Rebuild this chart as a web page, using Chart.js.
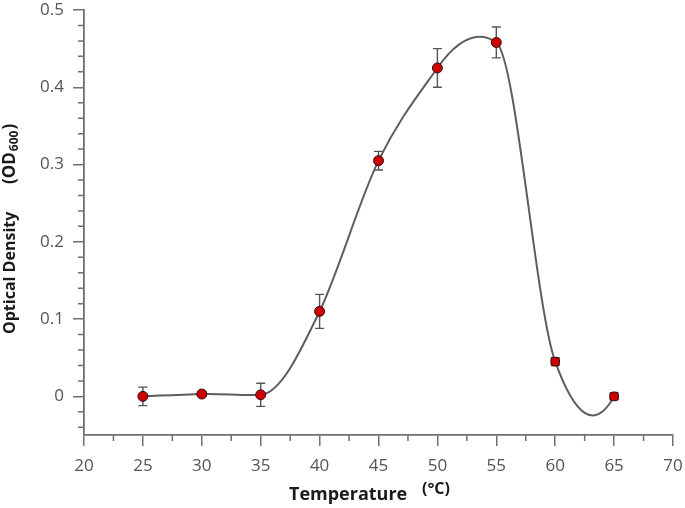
<!DOCTYPE html>
<html>
<head>
<meta charset="utf-8">
<title>Optical Density vs Temperature</title>
<script src="https://cdn.jsdelivr.net/npm/chart.js@4/dist/chart.umd.min.js"></script>
<style>
    html, body { margin: 0; padding: 0; background: #fff; }
    #wrap { width: 685px; height: 508px; }
</style>
</head>
<body>
<div id="wrap"><canvas id="odChart" width="685" height="508"></canvas></div>
<script>
// data
const temperatures = [25, 30, 35, 40, 45, 50, 55, 60, 65];
const odValues     = [0.000, 0.003, 0.002, 0.110, 0.305, 0.425, 0.458, 0.045, 0.000];
const odErrors     = [0.012, 0.003, 0.015, 0.022, 0.012, 0.025, 0.020, 0.005, 0.004];

const xTicks = [20, 25, 30, 35, 40, 45, 50, 55, 60, 65, 70];
const yTicks = [0, 0.1, 0.2, 0.3, 0.4, 0.5];
const xMinorTicks = [22.5, 27.5, 32.5, 37.5, 42.5, 47.5, 52.5, 57.5, 62.5, 67.5];
const yMinorTicks = [-0.04, -0.02, 0.02, 0.04, 0.06, 0.08, 0.12, 0.14, 0.16, 0.18,
                     0.22, 0.24, 0.26, 0.28, 0.32, 0.34, 0.36, 0.38, 0.42, 0.44, 0.46, 0.48];

const axisColor = '#707070';
const tickFont = { family: 'Open Sans', size: 17 };

// Swap Chart.js' bezier control points for Akima spline ones
// (the figure's connecting line is an Akima-type spline through the points)
const akimaSpline = {
    id: 'akimaSpline',
    beforeDatasetsDraw(chart) {
        const meta = chart.getDatasetMeta(0);
        const line = meta.dataset;
        const pts = meta.data;
        line.updateControlPoints(chart.chartArea, 'x');
        const n = pts.length;
        // segment slopes, with two extrapolated on each side
        const s = [];
        for (let i = 0; i < n - 1; i++) s.push((pts[i + 1].y - pts[i].y) / (pts[i + 1].x - pts[i].x));
        const sl = [2 * s[0] - s[1]];
        sl.unshift(2 * sl[0] - s[0]);
        const e1 = 2 * s[n - 2] - s[n - 3];
        const seg = sl.concat(s, [e1, 2 * e1 - s[n - 2]]);
        const d = [];
        for (let i = 0; i < n; i++) {
            const k = i + 2; // seg[k] is the slope right of node i
            const w1 = Math.abs(seg[k + 1] - seg[k]);
            const w2 = Math.abs(seg[k - 1] - seg[k - 2]);
            d.push(w1 + w2 > 1e-9 ? (w1 * seg[k - 1] + w2 * seg[k]) / (w1 + w2) : (seg[k - 1] + seg[k]) / 2);
        }
        for (let i = 0; i < n; i++) {
            const p = pts[i];
            const hp = i > 0 ? p.x - pts[i - 1].x : 0;
            const hn = i < n - 1 ? pts[i + 1].x - p.x : 0;
            p.cp1x = p.x - hp / 3; p.cp1y = p.y - d[i] * hp / 3;
            p.cp2x = p.x + hn / 3; p.cp2y = p.y + d[i] * hn / 3;
        }
        line._path = undefined;
    }
};

// Error bars, drawn under the points
const errorBars = {
    id: 'errorBars',
    beforeDatasetsDraw(chart) {
        const ctx = chart.ctx;
        const x = chart.scales.x, y = chart.scales.y;
        ctx.save();
        ctx.strokeStyle = '#555';
        ctx.lineWidth = 1.4;
        temperatures.forEach(function(t, i) {
            const px = x.getPixelForValue(t);
            const top = y.getPixelForValue(odValues[i] + odErrors[i]);
            const bot = y.getPixelForValue(odValues[i] - odErrors[i]);
            ctx.beginPath();
            ctx.moveTo(px, top); ctx.lineTo(px, bot);
            ctx.moveTo(px - 4.5, top); ctx.lineTo(px + 4.5, top);
            ctx.moveTo(px - 4.5, bot); ctx.lineTo(px + 4.5, bot);
            ctx.stroke();
        });
        ctx.restore();
    }
};

// Minor ticks and axis titles (subscript / degree unit)
const axisDecor = {
    id: 'axisDecor',
    afterDraw(chart) {
        const ctx = chart.ctx;
        const x = chart.scales.x, y = chart.scales.y;
        const area = chart.chartArea;
        ctx.save();
        ctx.strokeStyle = axisColor;
        ctx.lineWidth = 1.5;
        ctx.beginPath();
        xMinorTicks.forEach(function(v) {
            const px = x.getPixelForValue(v);
            ctx.moveTo(px, area.bottom); ctx.lineTo(px, area.bottom + 6);
        });
        yMinorTicks.forEach(function(v) {
            const py = y.getPixelForValue(v);
            ctx.moveTo(area.left, py); ctx.lineTo(area.left - 6, py);
        });
        ctx.stroke();

        // x title
        ctx.fillStyle = '#1a1a1a';
        ctx.textBaseline = 'alphabetic';
        ctx.textAlign = 'left';
        ctx.font = 'bold 18px "Open Sans"';
        ctx.fillText('Temperature', 289, 500);
        ctx.font = 'bold 16px "Open Sans"';
        ctx.fillText('(°C)', 422, 494);

        // y title, rotated
        ctx.translate(15, 0);
        ctx.rotate(-Math.PI / 2);
        ctx.font = 'bold 16px "Open Sans"';
        ctx.fillText('Optical Density', -334, 0);
        ctx.font = 'bold 17px "Open Sans"';
        ctx.fillText('(OD', -184, 0);
        const w = ctx.measureText('(OD').width;
        ctx.font = 'bold 12px "Open Sans"';
        ctx.fillText('600', -183 + w, 3);
        const w2 = ctx.measureText('600').width;
        ctx.font = 'bold 17px "Open Sans"';
        ctx.fillText(')', -182 + w + w2, 0);
        ctx.restore();
    }
};

function createChart() {
    const ctx = document.getElementById('odChart').getContext('2d');
    const points = temperatures.map(function(t, i) { return { x: t, y: odValues[i] }; });

    new Chart(ctx, {
        type: 'scatter',
        data: {
            datasets: [{
                data: points,
                showLine: true,
                borderColor: '#5e5e5e',
                borderWidth: 2,
                tension: 0.4,
                pointRadius: 5,
                pointBackgroundColor: '#cc0000',
                pointBorderColor: '#3a0a0a',
                pointBorderWidth: 1,
                pointStyle: function(c) { return c.dataIndex >= 7 ? 'rectRounded' : 'circle'; }
            }]
        },
        options: {
            responsive: false,
            animation: false,
            layout: { padding: { top: 10, right: 12, left: 0, bottom: 0 } },
            plugins: { legend: { display: false }, tooltip: { enabled: false } },
            scales: {
                x: {
                    type: 'linear',
                    min: 20, max: 70,
                    afterBuildTicks: function(s) { s.ticks = xTicks.map(function(v) { return { value: v }; }); },
                    afterFit: function(s) { s.height = 73; s.paddingLeft = 0; s.paddingRight = 0; },
                    border: { display: true, color: axisColor, width: 1.8 },
                    grid: { drawOnChartArea: false, tickLength: 11, color: axisColor, lineWidth: 1.5 },
                    ticks: { color: '#555', font: tickFont, padding: 10, maxRotation: 0 }
                },
                y: {
                    min: -0.05, max: 0.5,
                    afterBuildTicks: function(s) { s.ticks = yTicks.map(function(v) { return { value: v }; }); },
                    afterFit: function(s) { s.width = 84; s.paddingTop = 0; s.paddingBottom = 0; },
                    border: { display: true, color: axisColor, width: 1.8 },
                    grid: { drawOnChartArea: false, tickLength: 11, color: axisColor, lineWidth: 1.5 },
                    ticks: {
                        color: '#555', font: tickFont, padding: 9,
                        callback: function(v) { return v === 0 ? '0' : v.toFixed(1); }
                    }
                }
            }
        },
        plugins: [akimaSpline, errorBars, axisDecor]
    });
}

window.onload = createChart;
</script>
</body>
</html>
